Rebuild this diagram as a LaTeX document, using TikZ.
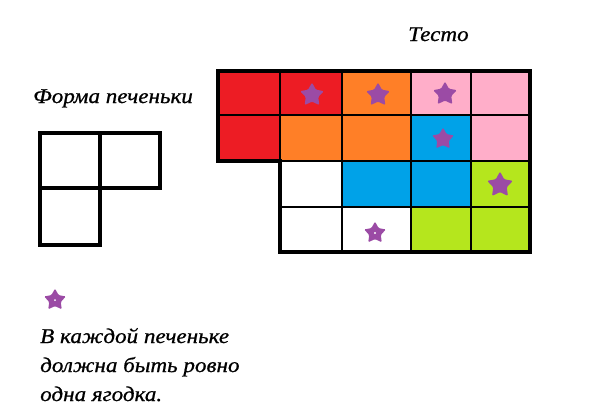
\documentclass[tikz,border=0pt]{standalone}
\usepackage{fontspec}
\setmainfont{Liberation Serif}
\newfontfamily\handfont[FakeStretch = 1.1, FakeBold = 0.8]{Liberation Serif Italic}
\usetikzlibrary{shapes.geometric}
\definecolor{cred}{HTML}{ED1C24}
\definecolor{corange}{HTML}{FF7F27}
\definecolor{cpink}{HTML}{FFAEC9}
\definecolor{cblue}{HTML}{00A2E8}
\definecolor{cgreen}{HTML}{B5E61D}
\definecolor{cberry}{HTML}{9B4BA5}

\begin{document}
\begin{tikzpicture}[x = 1pt, y = -1pt]
    \useasboundingbox (0,0) rectangle (600,418);
    \tikzstyle{txt}=[anchor = base west, inner sep = 0pt, font = \handfont\fontsize{21}{24}\selectfont]
    \tikzstyle{berry}=[star, star points = 5, star point ratio = 1.9, fill = cberry, inner sep = 0pt, minimum size = 25pt, rounded corners = 1.2pt]
    \tikzstyle{cell}=[draw = black, line width = 2.5pt]

    % dough
    \foreach \xa/\xb/\ya/\yb/\c in {218/280/71/115/cred, 280/342/71/115/cred, 342/411/71/115/corange, 411/471/71/115/cpink, 471/530/71/115/cpink,
        218/280/115/161/cred, 280/342/115/161/corange, 342/411/115/161/corange, 411/471/115/161/cblue, 471/530/115/161/cpink,
        280/342/161/207/white, 342/411/161/207/cblue, 411/471/161/207/cblue, 471/530/161/207/cgreen,
        280/342/207/252/white, 342/411/207/252/white, 411/471/207/252/cgreen, 471/530/207/252/cgreen}
        {\filldraw [cell, fill = \c] (\xa,\ya) rectangle (\xb,\yb);}
    \draw [line width = 4pt, line join = miter] (218,71) -- (530,71) -- (530,252) -- (280,252) -- (280,161) -- (218,161) -- cycle;

    % cookie shape
    \draw [line width = 4pt] (40,133) rectangle (100,188);
    \draw [line width = 4pt] (100,133) rectangle (160,188);
    \draw [line width = 4pt] (40,188) rectangle (100,245);

    % berries
    \node[berry] (b1) at (312,95) {};
    \node[berry] (b2) at (378,95) {};
    \node[berry] (b3) at (445,94) {};
    \node[berry, minimum size = 23pt] (b4) at (443,139) {};
    \node[berry, minimum size = 27pt] (b5) at (500,185) {};
    \node[berry, minimum size = 23pt] (b6) at (375,233) {};
    \fill [white] (b6.center) circle (1.2pt);
    \node[berry, minimum size = 23pt] (b0) at (55,300) {};
    \fill [white] (b0.center) circle (1pt);

    % labels
    \node[txt] (dough) at (408,41) {Тесто};
    \node[txt] (shape) at (33,103) {Форма печеньки};
    \node[txt] (rule1) at (40,343) {В каждой печеньке};
    \node[txt] (rule2) at (40,372) {должна быть ровно};
    \node[txt] (rule3) at (40,401) {одна ягодка.};
\end{tikzpicture}
\end{document}
